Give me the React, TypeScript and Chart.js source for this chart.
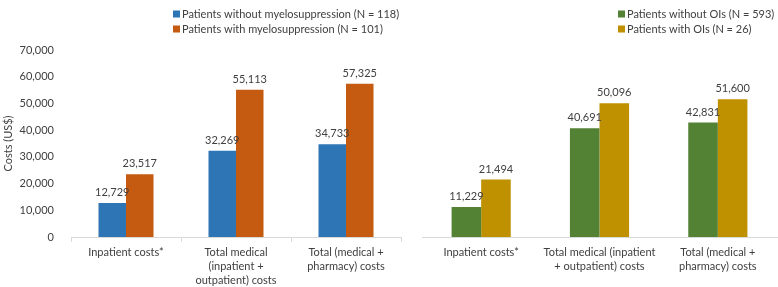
import React, { useEffect, useRef } from "react";
import { Chart, registerables } from "chart.js";

Chart.register(...registerables);

const FONT = "Lato, 'Open Sans', sans-serif";

const leftCategories: (string | string[])[] = [
  "Inpatient costs*",
  ["Total medical", "(inpatient +", "outpatient) costs"],
  ["Total (medical +", "pharmacy) costs"],
];
const rightCategories: (string | string[])[] = [
  "Inpatient costs*",
  ["Total medical (inpatient", "+ outpatient) costs"],
  ["Total (medical +", "pharmacy) costs"],
];

const withoutMyelo = [12729, 32269, 34733];
const withMyelo = [23517, 55113, 57325];
const withoutOIs = [11229, 40691, 42831];
const withOIs = [21494, 50096, 51600];

const leftLabels = [
  "Patients without myelosuppression (N = 118)",
  "Patients with myelosuppression (N = 101)",
];
const rightLabels = ["Patients without OIs (N = 593)", "Patients with OIs (N = 26)"];

const yMin = 0;
const yMax = 70000;
const yStep = 10000;

const fmt = (v: number) => v.toLocaleString("en-US");

const valueLabelPlugin = {
  id: "valueLabels",
  afterDatasetsDraw(chart: any) {
    const { ctx } = chart;
    ctx.save();
    ctx.font = `11px ${FONT}`;
    ctx.fillStyle = "#404040";
    ctx.textAlign = "center";
    ctx.textBaseline = "bottom";
    chart.data.datasets.forEach((ds: any, i: number) => {
      const meta = chart.getDatasetMeta(i);
      meta.data.forEach((el: any, j: number) => {
        ctx.fillText(fmt(ds.data[j]), el.x, el.y - 5);
      });
    });
    ctx.restore();
  },
};

const makeLegendPlugin = (x: number) => ({
  id: "customLegend",
  afterDraw(chart: any) {
    const { ctx } = chart;
    ctx.save();
    ctx.font = `11px ${FONT}`;
    ctx.textBaseline = "middle";
    ctx.textAlign = "left";
    chart.data.datasets.forEach((ds: any, i: number) => {
      const y = 14 + i * 15;
      ctx.fillStyle = ds.backgroundColor;
      ctx.fillRect(x, y - 3.5, 7, 7);
      ctx.fillStyle = "#404040";
      ctx.fillText(ds.label, x + 9, y);
    });
    ctx.restore();
  },
});

function makeConfig(
  categories: (string | string[])[],
  a: number[],
  b: number[],
  labels: string[],
  colors: string[],
  showY: boolean,
  padding: any,
  showTicks: boolean,
  legendX: number
): any {
  return {
    type: "bar",
    data: {
      labels: categories,
      datasets: [
        { label: labels[0], data: a, backgroundColor: colors[0] },
        { label: labels[1], data: b, backgroundColor: colors[1] },
      ],
    },
    options: {
      animation: false,
      responsive: false,
      maintainAspectRatio: false,
      layout: { padding },
      datasets: { bar: { categoryPercentage: 0.5, barPercentage: 1.0 } },
      plugins: { legend: { display: false }, tooltip: { enabled: false } },
      scales: {
        x: {
          offset: true,
          grid: {
            display: true,
            offset: true,
            drawOnChartArea: false,
            drawTicks: true,
            tickLength: 5,
            color: showTicks ? "#d9d9d9" : "rgba(0,0,0,0)",
            tickColor: showTicks ? "#d9d9d9" : "rgba(0,0,0,0)",
          },
          border: { display: true, color: "#d9d9d9", width: 1 },
          ticks: {
            font: { family: FONT, size: 11, lineHeight: 1.25 },
            color: "#404040",
            padding: 4,
            maxRotation: 0,
            minRotation: 0,
            autoSkip: false,
          },
          afterFit: (s: any) => {
            s.height = 50;
          },
        },
        y: {
          display: showY,
          min: yMin,
          max: yMax,
          grid: { display: false, drawTicks: false },
          border: { display: false },
          ticks: {
            stepSize: yStep,
            font: { family: FONT, size: 11 },
            color: "#404040",
            padding: 17,
            callback: (v: any) => fmt(Number(v)),
          },
          title: {
            display: showY,
            text: "Costs (US$)",
            font: { family: FONT, size: 11 },
            color: "#404040",
            padding: { top: 2, bottom: 0 },
          },
          afterFit: (s: any) => {
            if (showY) s.width = 71;
          },
        },
      },
    },
    plugins: [valueLabelPlugin, makeLegendPlugin(legendX)],
  };
}

export default function App() {
  const leftRef = useRef<HTMLCanvasElement>(null);
  const rightRef = useRef<HTMLCanvasElement>(null);

  useEffect(() => {
    const c1 = new Chart(
      leftRef.current!,
      makeConfig(
        leftCategories,
        withoutMyelo,
        withMyelo,
        leftLabels,
        ["#2E75B6", "#C55A11"],
        true,
        { top: 50, left: 0, right: 10, bottom: 0 },
        true,
        173
      )
    );
    const c2 = new Chart(
      rightRef.current!,
      makeConfig(
        rightCategories,
        withoutOIs,
        withOIs,
        rightLabels,
        ["#548235", "#BF9000"],
        false,
        { top: 50, left: 11, right: 1, bottom: 0 },
        false,
        207
      )
    );
    return () => {
      c1.destroy();
      c2.destroy();
    };
  }, []);

  return (
    <div
      style={{
        position: "fixed",
        left: 0,
        top: 0,
        width: 778,
        height: 287,
        background: "#fff",
      }}
    >
      <canvas
        ref={leftRef}
        width={411}
        height={287}
        style={{ position: "absolute", left: 0, top: 0, width: 411, height: 287 }}
      />
      <canvas
        ref={rightRef}
        width={367}
        height={287}
        style={{ position: "absolute", left: 411, top: 0, width: 367, height: 287 }}
      />
    </div>
  );
}
